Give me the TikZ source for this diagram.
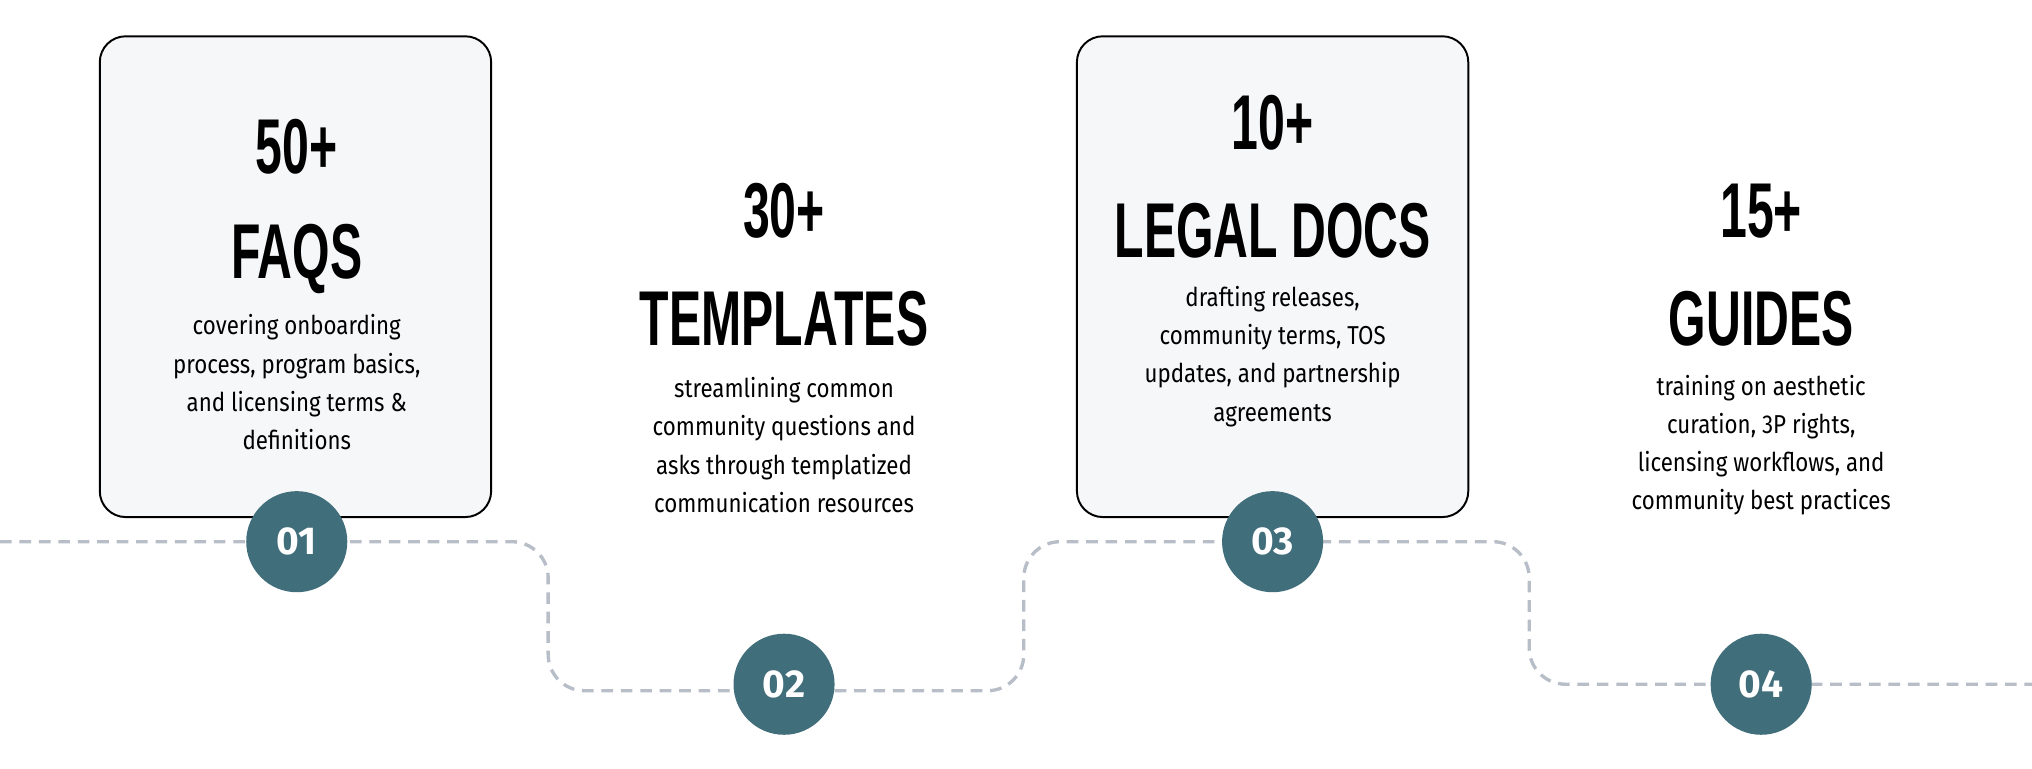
\documentclass[tikz,border=0pt]{standalone}
\usepackage{fontspec}
\setmainfont{Fira Sans}
\newfontfamily\headFont{Liberation Sans}[FakeStretch=0.62]
\newfontfamily\bodyFont{Fira Sans}[FakeStretch=0.86]
\newfontfamily\stepFont{Fira Sans}
\usetikzlibrary{positioning}
\definecolor{cardFill}{RGB}{246,247,249}
\definecolor{stepColor}{RGB}{65,110,123}
\definecolor{pathColor}{RGB}{184,190,200}
\tikzstyle{timeline} = [x = 1pt, y = -1pt]
\tikzstyle{cardStyle} = [draw=black, fill=cardFill, line width=1.5pt, rounded corners=20pt]
\tikzstyle{countText} = [font=\headFont\bfseries\fontsize{60}{60}\selectfont, inner sep=0pt]
\tikzstyle{bodyText} = [font=\bodyFont\fontsize{20}{29.5}\selectfont, align=center, inner sep=0pt]
\tikzstyle{stepStyle} = [circle, fill=stepColor, minimum size=78pt, inner sep=0pt, text=white, font=\stepFont\bfseries\fontsize{30}{30}\selectfont]
\tikzstyle{pathStyle} = [color=pathColor, line width=2.6pt, dash pattern=on 9pt off 6pt, rounded corners=28pt]
\newcommand{\card}[5]{\draw [cardStyle] (#1, #2) rectangle + (302, 371);}
\begin{document}
\begin{tikzpicture}[timeline]
  \useasboundingbox (0,0) rectangle (1568,593);
  % dashed route behind the steps
  \coordinate (start) at (0,418);
  \coordinate (end) at (1568,528);
  \draw [pathStyle] (start) -- (423,418) -- (423,533) -- (790,533) -- (790,418)
    -- (1180,418) -- (1180,528) -- (end);
  % cards
  \card{77}{28}
  \card{454}{85}
  \card{831}{28}
  \card{1208}{85}
  \node [countText] (countA) at (229,113) {50+};
  \node [countText] (nameA) at (229,200) {FAQS};
  \node [bodyText] (bodyA) at (229,295) {covering onboarding\\process, program basics,\\and licensing terms \&\\definitions};
  \node [countText] (countB) at (605,163) {30+};
  \node [countText] (nameB) at (605,246) {TEMPLATES};
  \node [bodyText] (bodyB) at (605,343.5) {streamlining common\\community questions and\\asks through templatized\\communication resources};
  \node [countText] (countC) at (982,95) {10+};
  \node [countText] (nameC) at (982,178) {LEGAL DOCS};
  \node [bodyText] (bodyC) at (982,275) {drafting releases,\\community terms, TOS\\updates, and partnership\\agreements};
  \node [countText] (countD) at (1359,163) {15+};
  \node [countText] (nameD) at (1359,246) {GUIDES};
  \node [bodyText] (bodyD) at (1359,343.5) {training on aesthetic\\curation, 3P rights,\\licensing workflows, and\\community best practices};
  % steps
  \node [stepStyle] (stepA) at (229,418) {01};
  \node [stepStyle] (stepB) at (605,528) {02};
  \node [stepStyle] (stepC) at (982,418) {03};
  \node [stepStyle] (stepD) at (1359,528) {04};
\end{tikzpicture}
\end{document}
